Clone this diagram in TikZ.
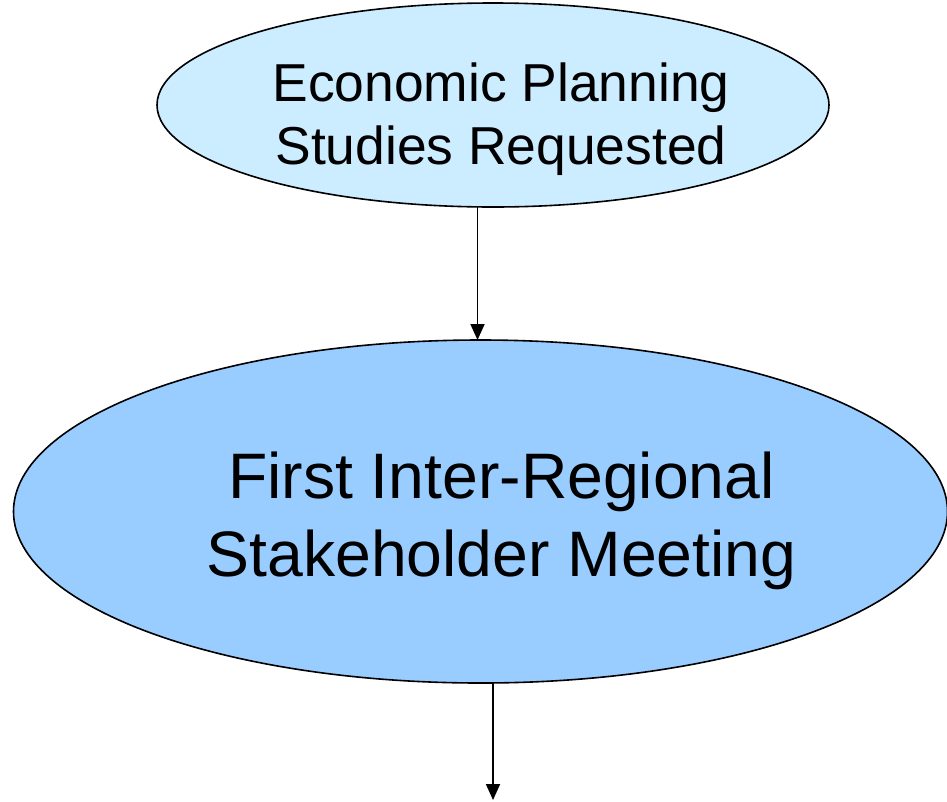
\documentclass[tikz,border=0pt]{standalone}
\usepackage{fontspec}
\setmainfont{Liberation Sans}
\usetikzlibrary{shapes.geometric,arrows.meta}
\definecolor{lightbox}{HTML}{CCECFF}
\definecolor{midbox}{HTML}{99CCFF}
\begin{document}
\begin{tikzpicture}[x=1pt,y=-1pt,
  ovalbox/.style={ellipse,draw=black,line width=1.6pt,inner sep=0pt},
  smalltext/.style={anchor=base,inner sep=0pt,font=\fontsize{53.4}{64}\selectfont},
  bigtext/.style={anchor=base,inner sep=0pt,font=\fontsize{64.3}{77}\selectfont},
  flow/.style={line width=1.8pt,-{Triangle[width=14pt,length=16pt]}}]
\useasboundingbox (0,0) rectangle (947,801);
\node[ovalbox,fill=lightbox,minimum width=672pt,minimum height=204pt] (econ) at (493,105) {};
\node[smalltext] (econA) at (501,101) {Economic Planning};
\node[smalltext] (econB) at (501,164) {Studies Requested};
\node[ovalbox,fill=midbox,minimum width=934pt,minimum height=343pt] (meet) at (480.5,511.5) {};
\node[bigtext] (meetA) at (501.5,498) {First Inter-Regional};
\node[bigtext] (meetB) at (501.5,576) {Stakeholder Meeting};
\coordinate (econBot) at (477.5,207);
\coordinate (meetTop) at (477.5,340);
\coordinate (meetBot) at (493,683);
\coordinate (outEnd) at (493,800);
\draw[flow] (econBot) -- (meetTop);
\draw[flow] (meetBot) -- (outEnd);
\end{tikzpicture}
\end{document}
